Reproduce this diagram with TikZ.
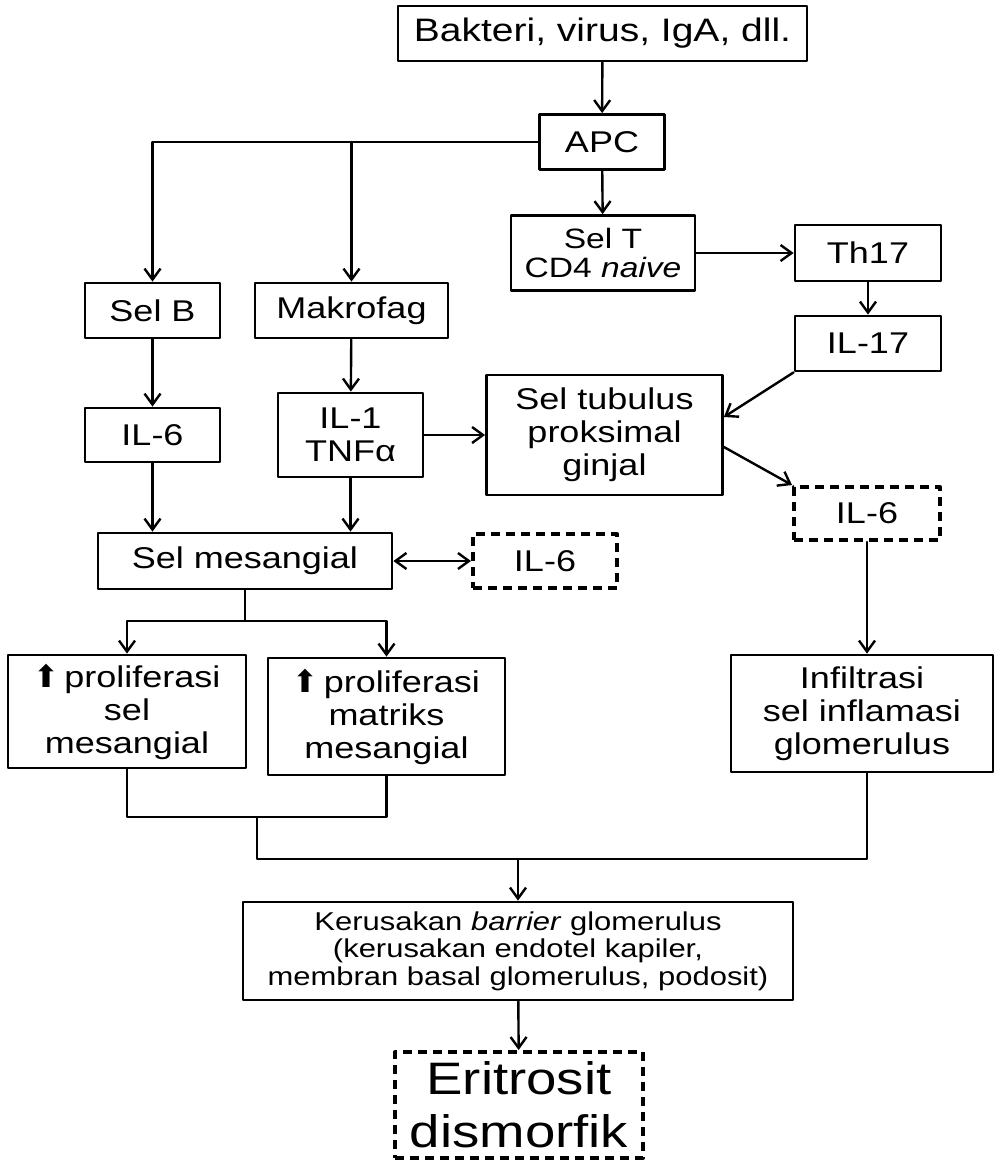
\documentclass[tikz,border=0pt]{standalone}
\usepackage{fontspec}
\setmainfont{Liberation Sans}[FakeStretch=1.2]
\newfontfamily\symfont{DejaVu Sans}
\usepackage{tikz}
\usetikzlibrary{arrows.meta, calc}

\newcommand{\upmark}{{\symfont\fontsize{31}{31}\selectfont ⬆}}

\begin{document}
\begin{tikzpicture}[
    x=1pt, y=-1pt,
    line cap=round,
    line join=round,
    >={Straight Barb[length=11pt,width=16pt]},
    every node/.style={font=\fontsize{30}{33}\selectfont},
    box/.style={draw, line width=2.8pt, align=center, inner sep=0pt},
    dashbox/.style={box, line width=4pt, dash pattern=on 9pt off 6pt, line cap=butt},
    link/.style={line width=2.4pt},
    flow/.style={link, ->}
]

% Page size
\useasboundingbox (0,0) rectangle (995,1160);

% Trigger and antigen presentation
\node[box, minimum width=409, minimum height=55, font=\fontsize{32.5}{35}\selectfont]
    (bakteri) at (602.5,33.5) {Bakteri, virus, IgA, dll.};
\node[box, minimum width=125, minimum height=55] (apc) at (602,142) {APC};
\node[box, minimum width=184, minimum height=75, font=\fontsize{28}{29}\selectfont]
    (selt) at (603,253) {Sel T\\CD4 \textit{naive}};

% Th17 branch
\node[box, minimum width=146, minimum height=56] (th17) at (868,253) {Th17};
\node[box, minimum width=146, minimum height=55] (il17) at (868,343.5) {IL-17};

% B cell and macrophage branch
\node[box, minimum width=135, minimum height=55] (selb) at (152.5,310.5) {Sel B};
\node[box, minimum width=193, minimum height=55] (makro) at (351.5,310.5) {Makrofag};
\node[box, minimum width=135, minimum height=54] (il6a) at (152.5,435) {IL-6};
\node[box, minimum width=145, minimum height=84] (il1) at (350.5,435) {IL-1\\TNFα};

% Proximal tubule
\node[box, minimum width=236, minimum height=120] (tubulus) at (604.5,435)
    {Sel tubulus\\proksimal\\ginjal};
\node[dashbox, minimum width=146, minimum height=53] (il6b) at (867,513.5) {IL-6};

% Mesangial cells
\node[box, minimum width=294, minimum height=56] (mesang) at (245,561) {Sel mesangial};
\node[dashbox, minimum width=144, minimum height=54] (il6c) at (545,561) {IL-6};

% Effects
\node[box, minimum width=238, minimum height=113] (prolsel) at (127,711.5)
    {\upmark\,proliferasi\\sel\\mesangial};
\node[box, minimum width=237, minimum height=117] (prolmat) at (386.5,716.5)
    {\upmark\,proliferasi\\matriks\\mesangial};
\node[box, minimum width=262, minimum height=117] (infil) at (862,713.5)
    {Infiltrasi\\sel inflamasi\\glomerulus};

% Outcome
\node[box, minimum width=550, minimum height=98, font=\fontsize{25.8}{27.5}\selectfont]
    (kerus) at (518,951)
    {Kerusakan \textit{barrier} glomerulus\\(kerusakan endotel kapiler,\\membran basal glomerulus, podosit)};
\node[dashbox, minimum width=248, minimum height=106, font=\fontsize{45.5}{53}\selectfont]
    (eritro) at (519,1105) {Eritrosit\\dismorfik};

% Merge points
\coordinate (split) at (245,621);
\coordinate (m1) at (257,817);
\coordinate (m2) at (518,859);

% Connectors
\draw[flow] (bakteri) -- (apc);
\draw[flow] (apc.west) -| (selb.north);
\draw[flow] (makro.north |- apc.west) -- (makro.north);
\draw[flow] (apc) -- (selt);
\draw[flow] (selt) -- (th17);
\draw[flow] (th17) -- (il17);
\draw[flow] (il17.south west) -- ([yshift=18pt]tubulus.east);
\draw[flow] ([yshift=-12pt]tubulus.east) -- (il6b.north west);
\draw[flow] (selb) -- (il6a);
\draw[flow] (makro) -- (il1);
\draw[flow] (il1) -- (tubulus);
\draw[flow] (il6a) -- (il6a |- mesang.north);
\draw[flow] (il1) -- (il1 |- mesang.north);
\draw[<->, link] (mesang) -- (il6c);
\draw[link] (mesang) -- (split);
\draw[flow] (split) -| (prolsel.north);
\draw[flow] (split) -| (prolmat.north);
\draw[flow] (il6b) -- (il6b |- infil.north);

% Joining lines
\draw[link] (prolsel.south) -- (prolsel.south |- m1) -- (prolmat.south |- m1) -- (prolmat.south);
\draw[link] (m1) -- (m1 |- m2) -- (il6b.south |- m2) -- (il6b.south |- infil.south);
\draw[flow] (m2) -- (kerus);
\draw[flow] (kerus) -- (eritro);

\end{tikzpicture}
\end{document}
